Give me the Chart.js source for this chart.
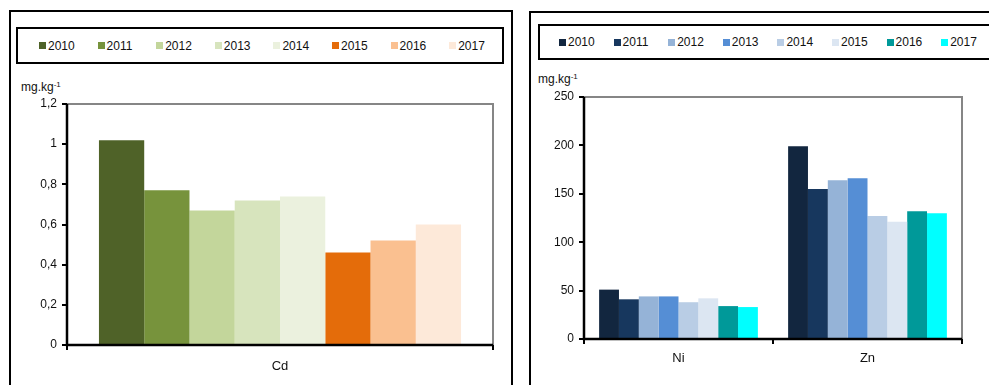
<!DOCTYPE html>
<html lang="en">
<head>
  <meta charset="UTF-8">
  <title>Cd, Ni, Zn 2010-2017</title>
  <script src="https://cdn.jsdelivr.net/npm/chart.js@4.4.1/dist/chart.umd.min.js"></script>
  <style>
    body { margin: 0; width: 989px; height: 385px; overflow: hidden; background: #fff;
           font-family: "Liberation Sans", Arial, sans-serif; color: #111; position: relative; }
    .panel { position: absolute; border: 2px solid #000; border-bottom: none; box-sizing: border-box; }
    .legend { position: absolute; border: 2px solid #000; box-sizing: border-box; display: flex;
              align-items: center; font-size: 12px; }
    .legend .item { flex: none; display: flex; align-items: center; }
    .legend .sq { width: 7px; height: 7px; margin-right: 2px; }
    .unit { position: absolute; font-size: 12px; line-height: 14px; }
    .unit sup { font-size: 8px; vertical-align: 4px; line-height: 0; }
    canvas { position: absolute; }
  </style>
</head>
<body>
  <div class="panel" style="left:9px; top:10px; width:504px; height:380px;"></div>
  <div class="panel" style="left:529px; top:11px; width:480px; height:380px;"></div>
  <div class="legend" id="legCd" style="left:16px; top:27px; width:488px; height:37px; padding-left:21px;"></div>
  <div class="legend" id="legNiZn" style="left:538px; top:24px; width:470px; height:36px; padding-left:19px;"></div>
  <div class="unit" style="left:21px; top:80px;">mg.kg<sup>-1</sup></div>
  <div class="unit" style="left:538px; top:72px;">mg.kg<sup>-1</sup></div>
  <canvas id="cdChart" width="512" height="315" style="left:0; top:70px;"></canvas>
  <canvas id="niznChart" width="460" height="320" style="left:529px; top:65px;"></canvas>
  <script>
    // years = series, one bar per year
    const years = ["2010", "2011", "2012", "2013", "2014", "2015", "2016", "2017"];

    // left chart: Cd
    const cdCategories = ["Cd"];
    const cdValues = [1.02, 0.77, 0.67, 0.72, 0.74, 0.46, 0.52, 0.60];
    const cdColors = ["#4F6228", "#77933C", "#C3D69B", "#D7E4BD", "#EBF1DE", "#E46C0A", "#FAC090", "#FDE9D9"];
    const cdTicks = [0, 0.2, 0.4, 0.6, 0.8, 1, 1.2];

    // right chart: Ni, Zn
    const niZnCategories = ["Ni", "Zn"];
    const niValues = [51, 41, 44, 44, 38, 42, 34, 33];
    const znValues = [199, 155, 164, 166, 127, 121, 132, 130];
    const niZnColors = ["#12263F", "#17375E", "#95B3D7", "#558ED5", "#B9CDE5", "#DCE6F2", "#009999", "#00FFFF"];
    const niZnTicks = [0, 50, 100, 150, 200, 250];

    function buildLegend(id, colors, pitch) {
      var box = document.getElementById(id);
      years.forEach(function (y, i) {
        var it = document.createElement("div");
        it.className = "item";
        it.style.width = pitch + "px";
        it.innerHTML = '<span class="sq" style="background:' + colors[i] + '"></span><span>' + y + "</span>";
        box.appendChild(it);
      });
    }
    buildLegend("legCd", cdColors, 58.6);
    buildLegend("legNiZn", niZnColors, 54.6);

    // grey top/right frame, black left/bottom axis lines on top of bars
    const framePlugin = {
      id: "frame",
      afterDatasetsDraw(chart) {
        const ctx = chart.ctx, a = chart.chartArea;
        ctx.save();
        ctx.strokeStyle = "#868686";
        ctx.lineWidth = 2;
        ctx.beginPath();
        ctx.moveTo(a.left, a.top);
        ctx.lineTo(a.right, a.top);
        ctx.lineTo(a.right, a.bottom);
        ctx.stroke();
        ctx.strokeStyle = "#000";
        ctx.lineWidth = 2.5;
        ctx.beginPath();
        ctx.moveTo(a.left, a.top);
        ctx.lineTo(a.left, a.bottom);
        ctx.lineTo(a.right, a.bottom);
        ctx.stroke();
        ctx.restore();
      }
    };

    function makeChart(id, labels, datasets, ticks, fmt, dims) {
      const step = ticks[1] - ticks[0];
      return new Chart(document.getElementById(id), {
        type: "bar",
        data: { labels: labels, datasets: datasets },
        options: {
          responsive: false,
          animation: false,
          layout: { padding: { left: 0, top: dims.top, right: dims.right, bottom: 0 } },
          plugins: { legend: { display: false }, tooltip: { enabled: false } },
          datasets: { bar: { categoryPercentage: dims.cat, barPercentage: 1 } },
          scales: {
            x: {
              grid: { display: true, drawOnChartArea: false, drawTicks: true, tickLength: 5,
                      color: "#000", lineWidth: 2, offset: true },
              border: { display: false },
              ticks: { color: "#111", font: { family: "Liberation Sans", size: 13 }, padding: dims.xpad },
              afterFit: function (s) { s.height = dims.xh; }
            },
            y: {
              min: ticks[0],
              max: ticks[ticks.length - 1],
              grid: { display: true, drawOnChartArea: false, drawTicks: true, tickLength: 5,
                      color: "#000", lineWidth: 2 },
              border: { display: false },
              ticks: { stepSize: step, color: "#111", font: { family: "Liberation Sans", size: 12 },
                       padding: 5, callback: fmt },
              afterFit: function (s) { s.width = dims.yw; }
            }
          }
        },
        plugins: [framePlugin]
      });
    }

    const cdSets = years.map(function (y, i) {
      return { label: y, data: [cdValues[i]], backgroundColor: cdColors[i] };
    });
    makeChart("cdChart", cdCategories, cdSets, cdTicks,
      function (v) { return String(Math.round(v * 10) / 10).replace(".", ","); },
      { top: 34, right: 19, xh: 40, yw: 67, cat: 0.85, xpad: 9 });

    const niZnSets = years.map(function (y, i) {
      return { label: y, data: [niValues[i], znValues[i]], backgroundColor: niZnColors[i] };
    });
    makeChart("niznChart", niZnCategories, niZnSets, niZnTicks,
      function (v) { return String(Math.round(v)); },
      { top: 32, right: 27, xh: 46, yw: 55, cat: 0.84, xpad: 7 });
  </script>
</body>
</html>
